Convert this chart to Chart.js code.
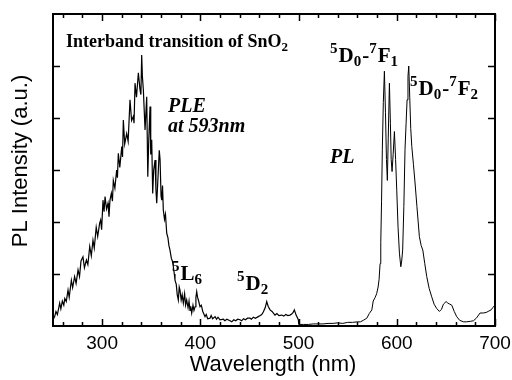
<!DOCTYPE html>
<html>
<head>
<meta charset="utf-8">
<script src="https://cdn.jsdelivr.net/npm/chart.js@4"></script>
<style>
  html, body { margin: 0; padding: 0; background: #fff; }
  #wrap { width: 512px; height: 380px; }
</style>
</head>
<body>
<div id="wrap"><canvas id="c" width="512" height="380"></canvas></div>
<script>
const pleWavelength = [
  250, 251.7, 253, 254.5, 256.8, 258, 259.5, 261, 262, 263.5, 265.3, 266.5, 268.7, 270, 272, 273.5,
  275.5, 277, 278.5, 280.5, 282, 284, 285.5, 287.4, 289, 290.7, 292, 294, 295.5, 297.5, 298.5, 299.5,
  300.9, 302, 303, 304.5, 306, 307, 308, 309.4, 310.5, 311.4, 313, 314.8, 315.6, 316.5, 318, 320,
  320.8, 321.6, 323, 325, 326.5, 328.4, 330, 331.8, 332.5, 333.5, 335, 336.9, 338.6, 339.5, 340.3, 341,
  342, 343.7, 345.4, 346.5, 347.5, 348.8, 349.5, 350.5, 351.5, 352.5, 353.9, 354.8, 355.6, 357, 358.2, 359,
  360, 360.7, 361.5, 362.3, 363.5, 364.5, 365.8, 367, 368, 369.1, 370.5, 371.5, 372.5, 373.5, 374.2, 375.5,
  376.5, 377.6, 378.5, 379.3, 380.5, 381.5, 382.7, 384, 385, 386.1, 387.5, 388.5, 389.5, 390.2, 391.2, 392.5,
  393.5, 394.6, 395.5, 396.3, 397.2, 398, 399.7, 401, 402.5, 404.8, 406, 407.5, 409.9, 411, 412.5, 415,
  416.5, 418, 420, 423.4, 425, 427, 430.2, 432, 434, 436, 438, 440.4, 442, 444, 446, 448,
  450.6, 452, 454, 456, 459, 461, 462.5, 464.1, 466, 467.6, 469, 471, 473, 476, 478, 480,
  482.9, 485, 487, 489, 491.3, 493, 494.5, 495.7, 497.5, 499.8, 500.2
];
const pleIntensity = [
  0.12, 0.18, 0.28, 0.22, 0.44, 0.33, 0.48, 0.40, 0.53, 0.47, 0.69, 0.55, 0.88, 0.74, 0.95, 0.82,
  1.08, 0.95, 1.25, 1.33, 1.12, 1.27, 1.18, 1.53, 1.35, 1.65, 1.50, 1.90, 1.72, 1.98, 2.04, 1.85,
  2.42, 2.20, 2.49, 2.25, 2.36, 2.10, 2.42, 2.55, 2.40, 2.80, 2.65, 3.00, 2.85, 3.32, 3.05, 3.45,
  3.25, 3.96, 3.50, 3.70, 3.55, 4.35, 3.95, 4.03, 3.90, 4.67, 4.40, 4.87, 4.54, 4.45, 5.21, 4.80,
  4.54, 3.77, 4.41, 2.87, 3.58, 4.22, 3.30, 3.58, 2.55, 3.00, 3.19, 2.62, 2.36, 2.90, 3.38, 3.20,
  2.50, 2.42, 2.70, 2.23, 2.05, 2.15, 1.78, 1.70, 1.55, 1.46, 1.30, 1.25, 1.14, 1.00, 0.88, 0.80,
  0.60, 0.50, 0.75, 0.69, 0.50, 0.60, 0.44, 0.62, 0.40, 0.50, 0.35, 0.48, 0.30, 0.38, 0.25, 0.40,
  0.30, 0.37, 0.55, 0.66, 0.55, 0.50, 0.37, 0.40, 0.28, 0.18, 0.22, 0.14, 0.15, 0.20, 0.14, 0.18,
  0.13, 0.17, 0.12, 0.13, 0.10, 0.13, 0.10, 0.08, 0.12, 0.10, 0.13, 0.12, 0.10, 0.14, 0.12, 0.15,
  0.15, 0.13, 0.17, 0.15, 0.18, 0.20, 0.22, 0.27, 0.35, 0.47, 0.38, 0.31, 0.28, 0.21, 0.24, 0.20,
  0.21, 0.19, 0.22, 0.20, 0.21, 0.23, 0.26, 0.31, 0.21, 0.12, 0.03
];

// PL emission spectrum (Eu3+ lines)
const plWavelength = [
  501, 505, 510, 515, 520, 525, 530, 535, 540, 545, 550, 555, 560, 563, 566, 569.5,
  572, 574.6, 576, 578, 579.5, 581, 582, 583, 583.7, 584.5, 585.3, 586.3, 587.4, 588.5, 589.5, 590.4,
  591.3, 592.5, 593.5, 594.3, 595.2, 596.3, 597.6, 598.8, 600, 601.3, 602.7, 604.1, 605, 606, 607.2, 608.4,
  609.5, 610.5, 611.4, 612.2, 613.2, 614.2, 615.3, 617, 618.6, 620.5, 623, 624.8, 626.5, 628.5, 630.5, 633,
  635.6, 638, 640.5, 643.4, 645.5, 647.5, 650.2, 652, 654, 656, 658.5, 661, 664, 667.8, 671, 675,
  678, 681, 684.8, 688, 691, 693, 696, 698, 700
];
const plIntensity = [
  0.03, 0.03, 0.03, 0.04, 0.04, 0.04, 0.05, 0.05, 0.06, 0.05, 0.07, 0.07, 0.08, 0.08, 0.11, 0.15,
  0.24, 0.31, 0.48, 0.55, 0.62, 0.75, 0.90, 1.2, 1.6, 2.4, 3.4, 4.3, 4.9, 4.1, 3.2, 2.8,
  3.6, 4.67, 3.9, 3.2, 2.97, 3.3, 3.74, 3.2, 2.6, 1.9, 1.4, 1.14, 1.25, 1.46, 2.3, 3.4,
  3.9, 4.35, 4.8, 5.0, 4.4, 3.8, 3.45, 3.1, 2.75, 2.3, 1.72, 1.55, 1.46, 1.2, 0.95, 0.72,
  0.56, 0.42, 0.34, 0.28, 0.32, 0.42, 0.47, 0.44, 0.42, 0.40, 0.28, 0.18, 0.11, 0.08, 0.08, 0.09,
  0.10, 0.15, 0.25, 0.25, 0.26, 0.28, 0.31, 0.36, 0.40
];

const xMajorTicks = [300, 400, 500, 600, 700];
const xMinorTicks = [260, 280, 320, 340, 360, 380, 420, 440, 460, 480, 520, 540, 560, 580, 620, 640, 660, 680];
const yMajorTicks = [1, 2, 3, 4, 5];

const SANS = '"Liberation Sans", Arial, sans-serif';
const SERIF = '"Liberation Serif", "Times New Roman", serif';

// text with superscripts / subscripts: parts = [[text, 'n'|'sup'|'sub'], ...]
function drawRich(ctx, x, y, parts, size, style) {
    let cx = x;
    parts.forEach(([txt, kind]) => {
        const small = kind !== 'n';
        const fs = small ? Math.round(size * 0.72) : size;
        ctx.font = `${style} ${fs}px ${SERIF}`;
        let dy = 0;
        if (kind === 'sup') dy = -size * 0.42;
        if (kind === 'sub') dy = size * 0.2;
        ctx.fillText(txt, cx, y + dy);
        cx += ctx.measureText(txt).width + (small ? 1 : 0);
    });
}

const framePlugin = {
    id: 'frame',
    afterDraw(chart) {
        const { ctx, chartArea: a, scales: { x, y } } = chart;
        ctx.save();
        ctx.strokeStyle = '#000';
        ctx.lineWidth = 2;
        ctx.strokeRect(a.left, a.top, a.right - a.left, a.bottom - a.top);

        ctx.lineWidth = 1.5;
        ctx.beginPath();
        const tickX = (v, len) => {
            const px = Math.round(x.getPixelForValue(v)) + 0.5;
            ctx.moveTo(px, a.bottom); ctx.lineTo(px, a.bottom - len);
            ctx.moveTo(px, a.top); ctx.lineTo(px, a.top + len);
        };
        xMajorTicks.forEach(v => tickX(v, 7));
        xMinorTicks.forEach(v => tickX(v, 4));
        yMajorTicks.forEach(v => {
            const py = Math.round(y.getPixelForValue(v)) + 0.5;
            ctx.moveTo(a.left, py); ctx.lineTo(a.left + 7, py);
            ctx.moveTo(a.right, py); ctx.lineTo(a.right - 7, py);
        });
        ctx.stroke();

        // axis titles
        ctx.fillStyle = '#000';
        ctx.font = `22px ${SANS}`;
        ctx.textAlign = 'center';
        ctx.textBaseline = 'middle';
        ctx.fillText('Wavelength (nm)', 273, 365);
        ctx.translate(21, 161);
        ctx.rotate(-Math.PI / 2);
        ctx.fillText('PL Intensity (a.u.)', 0, 0);
        ctx.restore();

        // annotations
        ctx.save();
        ctx.fillStyle = '#000';
        ctx.textAlign = 'left';
        ctx.textBaseline = 'alphabetic';
        drawRich(ctx, 66, 47, [['Interband transition of SnO', 'n'], ['2', 'sub']], 18, 'bold');
        ctx.font = `italic bold 20px ${SERIF}`;
        ctx.fillText('PLE', 168, 112);
        ctx.fillText('at 593nm', 168, 132);
        ctx.fillText('PL', 330, 163);
        drawRich(ctx, 330, 62, [['5', 'sup'], ['D', 'n'], ['0', 'sub'], ['-', 'n'], ['7', 'sup'], ['F', 'n'], ['1', 'sub']], 21, 'bold');
        drawRich(ctx, 410, 95, [['5', 'sup'], ['D', 'n'], ['0', 'sub'], ['-', 'n'], ['7', 'sup'], ['F', 'n'], ['2', 'sub']], 21, 'bold');
        drawRich(ctx, 172, 280, [['5', 'sup'], ['L', 'n'], ['6', 'sub']], 21, 'bold');
        drawRich(ctx, 237, 290, [['5', 'sup'], ['D', 'n'], ['2', 'sub']], 21, 'bold');
        ctx.restore();
    }
};

const toPoints = (xs, ys) => xs.map((w, i) => ({ x: w, y: ys[i] }));

new Chart(document.getElementById('c'), {
    type: 'line',
    data: {
        datasets: [
            {
                label: 'PLE',
                data: toPoints(pleWavelength, pleIntensity),
                borderColor: '#000',
                borderWidth: 1.2,
                pointRadius: 0,
                tension: 0
            },
            {
                label: 'PL',
                data: toPoints(plWavelength, plIntensity),
                borderColor: '#000',
                borderWidth: 1,
                pointRadius: 0,
                tension: 0
            }
        ]
    },
    options: {
        responsive: false,
        animation: false,
        layout: { padding: { left: 53, top: 14, right: 17, bottom: 0 } },
        plugins: { legend: { display: false }, tooltip: { enabled: false } },
        scales: {
            x: {
                type: 'linear',
                min: 250,
                max: 700,
                grid: { display: false },
                border: { display: false },
                afterBuildTicks: (scale) => {
                    scale.ticks = xMajorTicks.map(v => ({ value: v }));
                },
                afterFit: (scale) => {
                    scale.height = 54;
                    scale.paddingLeft = 0;
                    scale.paddingRight = 0;
                },
                ticks: {
                    color: '#000',
                    padding: -2,
                    maxRotation: 0,
                    font: { family: SANS, size: 19 }
                }
            },
            y: {
                display: false,
                min: 0,
                max: 6
            }
        }
    },
    plugins: [framePlugin]
});
</script>
</body>
</html>
